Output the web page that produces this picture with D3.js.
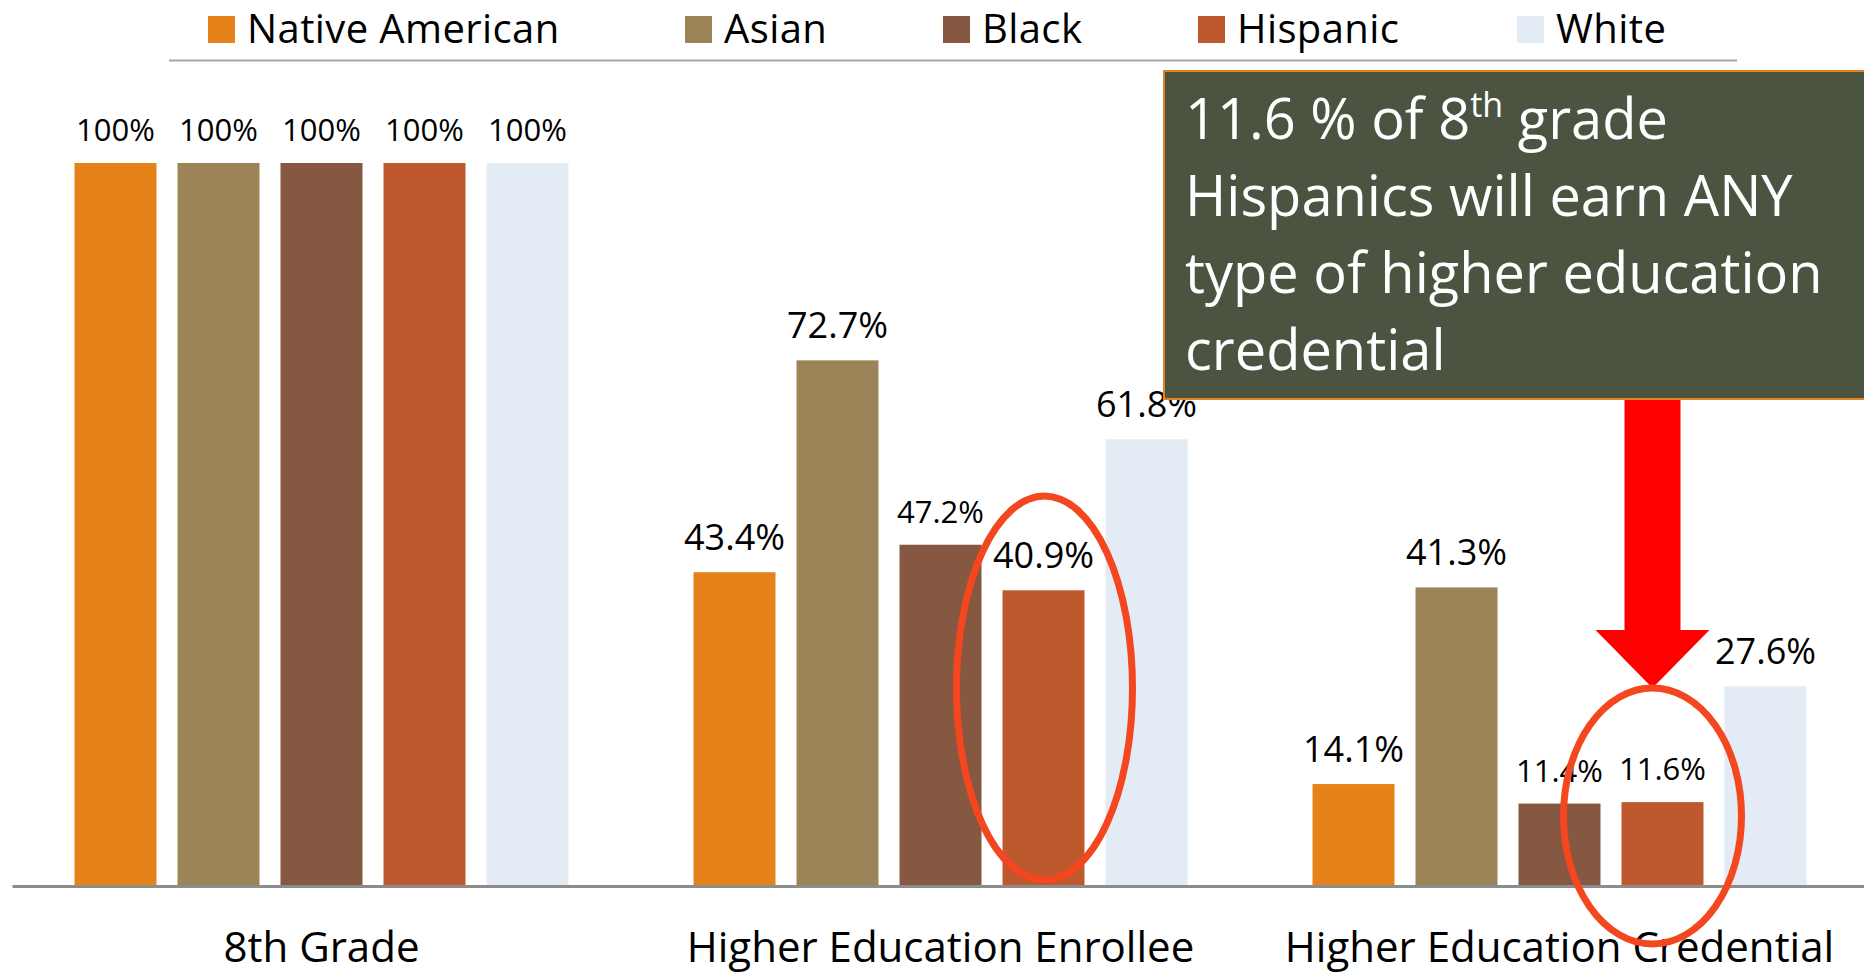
<!DOCTYPE html>
<html>
<head>
<meta charset="utf-8">
<script src="https://cdn.jsdelivr.net/npm/d3@7/dist/d3.min.js"></script>
<style>
  html, body { margin: 0; padding: 0; background: #ffffff; }
  svg { display: block; font-family: "Open Sans", "Noto Sans", sans-serif; }
</style>
</head>
<body>
<svg id="chart" width="1864" height="973"></svg>
<script>
// ---------- data ----------
const categories = ["8th Grade", "Higher Education Enrollee", "Higher Education Credential"];
const series = ["Native American", "Asian", "Black", "Hispanic", "White"];
const nativeAmerican = [100, 43.4, 14.1];
const asian = [100, 72.7, 41.3];
const black = [100, 47.2, 11.4];
const hispanic = [100, 40.9, 11.6];
const white = [100, 61.8, 27.6];
const valueLabels = [
  ["100%", "43.4%", "14.1%"],
  ["100%", "72.7%", "41.3%"],
  ["100%", "47.2%", "11.4%"],
  ["100%", "40.9%", "11.6%"],
  ["100%", "61.8%", "27.6%"]
];
const annotationLines = ["11.6 % of 8", "Hispanics will earn ANY", "type of higher education", "credential"];

// ---------- styles ----------
const colors = ["#E5821A", "#9C8358", "#865741", "#BE592E", "#E3ECF4"];
// labels drawn in the smaller font size in the original
const smallLabels = new Set(["0-0","1-0","2-0","3-0","4-0","2-1","2-2","3-2"]);

const seriesValues = [nativeAmerican, asian, black, hispanic, white];

const svg = d3.select("#chart");
const baseY = 886, topY = 163;

const x0 = d3.scaleBand().domain(categories).range([12, 1869]).paddingInner(0).paddingOuter(0);
const x1 = d3.scaleBand().domain(series).range([0, x0.bandwidth()]).paddingInner(0.204).paddingOuter(0.607);
const y = d3.scaleLinear().domain([0, 100]).range([baseY, topY]);

// ---------- legend ----------
const legendX = [208, 685, 943, 1198, 1517];
const legend = svg.append("g");
series.forEach((s, i) => {
  const g = legend.append("g").attr("transform", `translate(${legendX[i]},0)`);
  g.append("rect").attr("x", 0).attr("y", 16).attr("width", 27).attr("height", 27).attr("fill", colors[i]);
  g.append("text").attr("x", 39).attr("y", 43).attr("font-size", 40)
    .attr("letter-spacing", 0.4).attr("fill", "#000").text(s);
});
svg.append("line").attr("x1", 169).attr("x2", 1737).attr("y1", 60.5).attr("y2", 60.5)
  .attr("stroke", "#a6a6a6").attr("stroke-width", 2);

// ---------- bars ----------
const data = [];
categories.forEach((c, ci) => {
  series.forEach((s, si) => {
    data.push({ cat: c, ser: s, ci, si, v: seriesValues[si][ci], label: valueLabels[si][ci] });
  });
});

svg.append("g").selectAll("rect").data(data).join("rect")
  .attr("x", d => x0(d.cat) + x1(d.ser))
  .attr("y", d => y(d.v))
  .attr("width", x1.bandwidth())
  .attr("height", d => y(0) - y(d.v))
  .attr("fill", d => colors[d.si]);

svg.append("g").selectAll("text").data(data).join("text")
  .attr("x", d => x0(d.cat) + x1(d.ser) + x1.bandwidth() / 2)
  .attr("y", d => y(d.v) - 22)
  .attr("text-anchor", "middle")
  .attr("font-size", d => smallLabels.has(d.si + "-" + d.ci) ? 31 : 36)
  .attr("fill", "#000")
  .text(d => d.label);

// ---------- axis ----------
const axis = svg.append("g").attr("transform", `translate(0,${baseY})`)
  .call(d3.axisBottom(x0).tickSize(0).tickSizeOuter(0));
axis.select(".domain").attr("stroke", "#8c8c8c").attr("stroke-width", 3);
axis.selectAll("text").attr("y", 76).attr("dy", null)
  .attr("font-size", 42).attr("fill", "#000")
  .style("font-family", '"Open Sans", "Noto Sans", sans-serif');

// ---------- annotations ----------
const hispCenter = c => x0(c) + x1("Hispanic") + x1.bandwidth() / 2;
const ringColor = "#F4461F";

// ellipse around enrollee Hispanic bar
svg.append("ellipse")
  .attr("cx", hispCenter(categories[1]) + 1).attr("cy", 688)
  .attr("rx", 88).attr("ry", 192)
  .attr("fill", "none").attr("stroke", ringColor).attr("stroke-width", 7);

// arrow
const ax = hispCenter(categories[2]) - 10;
const tipY = 688;
svg.append("path")
  .attr("d", `M${ax - 28},380 L${ax + 28},380 L${ax + 28},630 L${ax + 57},630 L${ax},${tipY} L${ax - 57},630 L${ax - 28},630 Z`)
  .attr("fill", "#FF0000");

// ellipse around credential Hispanic bar
svg.append("ellipse")
  .attr("cx", ax).attr("cy", 816)
  .attr("rx", 89).attr("ry", 128)
  .attr("fill", "none").attr("stroke", ringColor).attr("stroke-width", 7);

// text box
const box = svg.append("g");
box.append("rect").attr("x", 1164).attr("y", 71).attr("width", 720).attr("height", 328)
  .attr("fill", "#4B5441").attr("stroke", "#E6821E").attr("stroke-width", 2);
const lineYs = [139, 216, 293, 370];
annotationLines.forEach((t, i) => {
  const tx = box.append("text").attr("x", 1185).attr("y", lineYs[i])
    .attr("font-size", 56).attr("fill", "#ffffff");
  if (i === 0) {
    tx.append("tspan").text(t);
    tx.append("tspan").attr("font-size", 34).attr("dy", -22).text("th");
    tx.append("tspan").attr("dy", 22).text(" grade");
  } else {
    tx.text(t);
  }
});
</script>
</body>
</html>
